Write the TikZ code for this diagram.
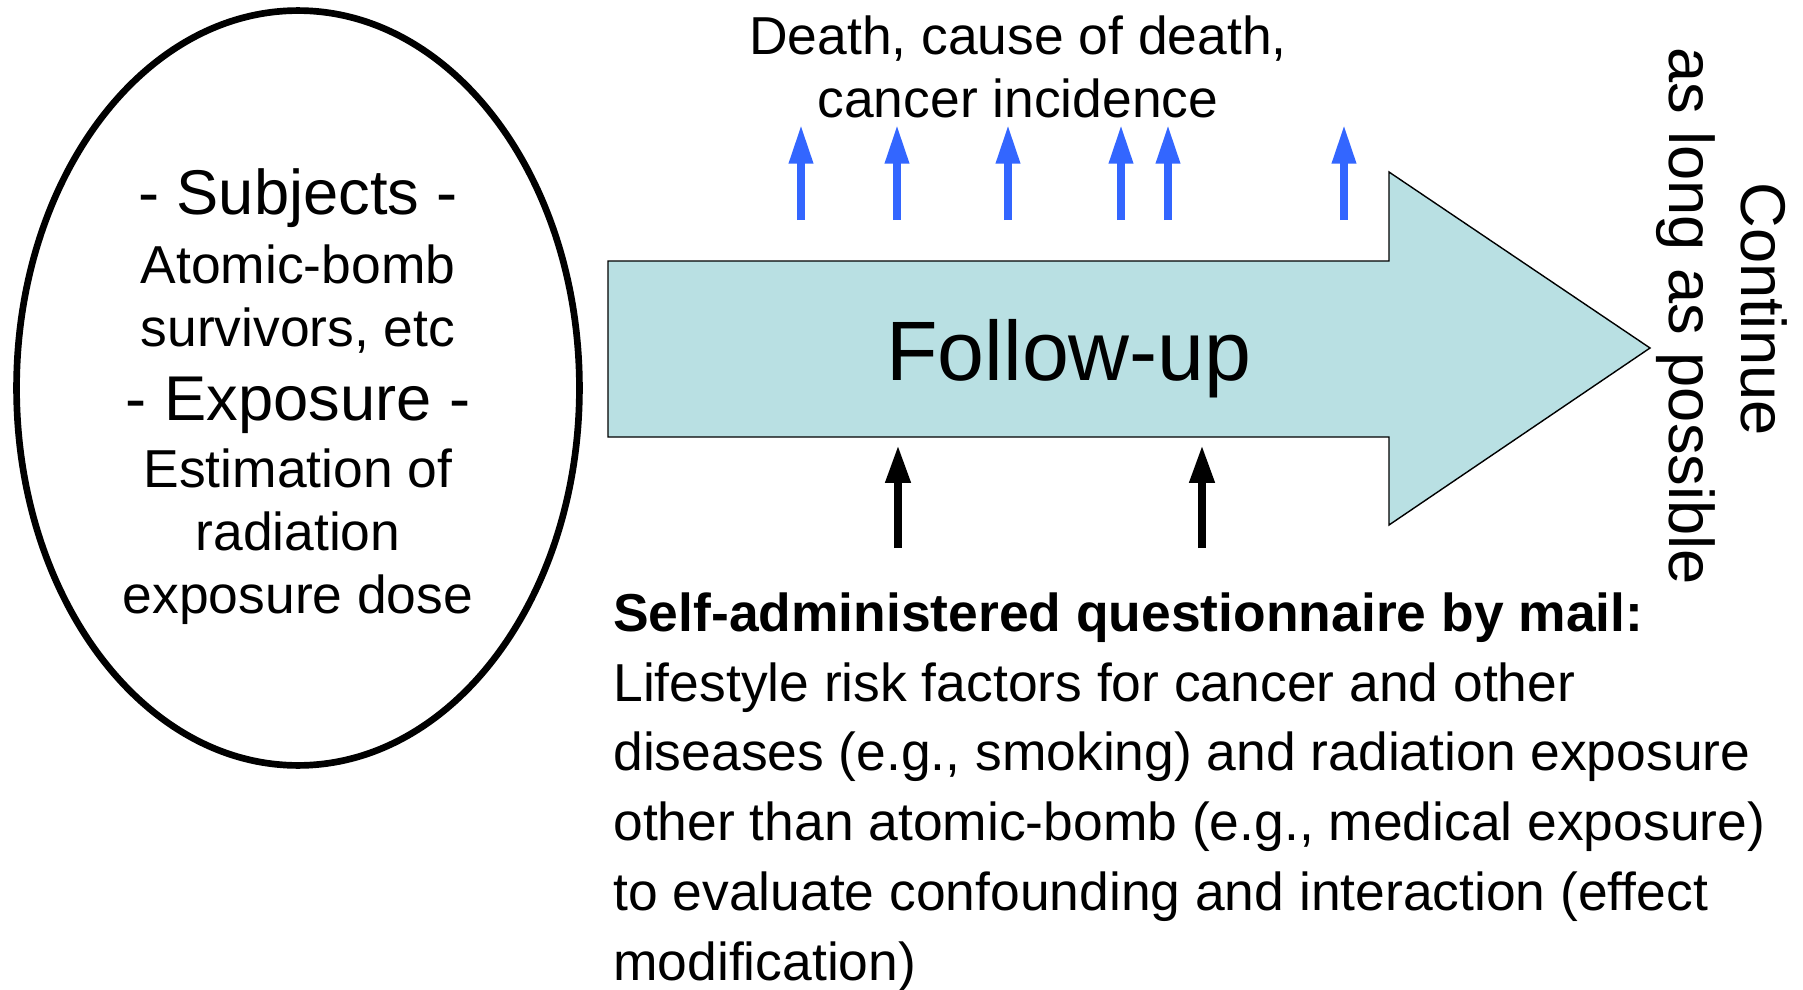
\documentclass[tikz,border=0pt]{standalone}
\usepackage{fontspec}
\setmainfont{Liberation Sans}
\usepackage{tikz}
\usetikzlibrary{arrows.meta, shapes.geometric}

\definecolor{followfill}{RGB}{185,224,227}
\definecolor{eventblue}{RGB}{51,102,255}
\newcommand{\headsize}{\fontsize{36}{36}\selectfont}

\begin{document}
\begin{tikzpicture}[x=0.02cm, y=-0.02cm,
                eventarrow/.style={
                  eventblue, line width=4.1pt, -{Triangle[length=22pt,width=13pt]}
                },
                mailarrow/.style={
                  black, line width=4.6pt, -{Triangle[length=21.6pt,width=13.5pt]}
                },
                bodytext/.style={font=\fontsize{30.4}{36}\selectfont, inner sep=0pt}
                ]
  \useasboundingbox (0,0) rectangle (1803,990);
  % subjects and exposure
  \node [ellipse, draw, line width=3.8pt, minimum width=11.26cm, minimum height=15.1cm,
         inner sep=0pt] (cohort) at (298,388) {};
  \node [bodytext, align=center] (cohorttext) at (298,397)
        {{\headsize - Subjects -}\\[3pt]
         Atomic-bomb\\
         survivors, etc\\[6pt]
         {\headsize - Exposure -}\\[2pt]
         Estimation of\\
         radiation\\
         exposure dose};
  % follow-up arrow
  \draw [fill=followfill, line width=0.8pt]
        (608,261) -- (1389,261) -- (1389,172) -- (1650,348)
        -- (1389,525) -- (1389,437) -- (608,437) -- cycle;
  \node [anchor=base, font=\fontsize{48}{48}\selectfont] (followup) at (1069,380) {Follow-up};
  % outcomes
  \node [bodytext, align=center, anchor=base] (outcome) at (1018,118)
        {Death, cause of death,\\ cancer incidence};
  \foreach \x [count=\i] in {801,897,1008,1121,1168,1344} {
    \coordinate (ev\i) at (\x,220);
    \coordinate (evtop\i) at (\x,125);
    \draw [eventarrow] (ev\i) -- (evtop\i);
  }
  % questionnaire
  \coordinate (mail1) at (898,548);
  \coordinate (mailtop1) at (898,445);
  \coordinate (mail2) at (1202,548);
  \coordinate (mailtop2) at (1202,445);
  \draw [mailarrow] (mail1) -- (mailtop1);
  \draw [mailarrow] (mail2) -- (mailtop2);
  \node [bodytext, font=\fontsize{30.4}{39.7}\selectfont, align=left, anchor=base west] (quest) at (613,980)
        {\textbf{Self-administered questionnaire by mail:}\\
         Lifestyle risk factors for cancer and other\\
         diseases (e.g., smoking) and radiation exposure\\
         other than atomic-bomb (e.g., medical exposure)\\
         to evaluate confounding and interaction (effect\\
         modification)};
  % continue
  \node [anchor=base, rotate=-90, font=\fontsize{36}{36}\selectfont] (cont) at (1741,309) {Continue};
  \node [anchor=base, rotate=-90, font=\fontsize{36}{36}\selectfont] (contlong) at (1669,316) {as long as possible};
\end{tikzpicture}
\end{document}
